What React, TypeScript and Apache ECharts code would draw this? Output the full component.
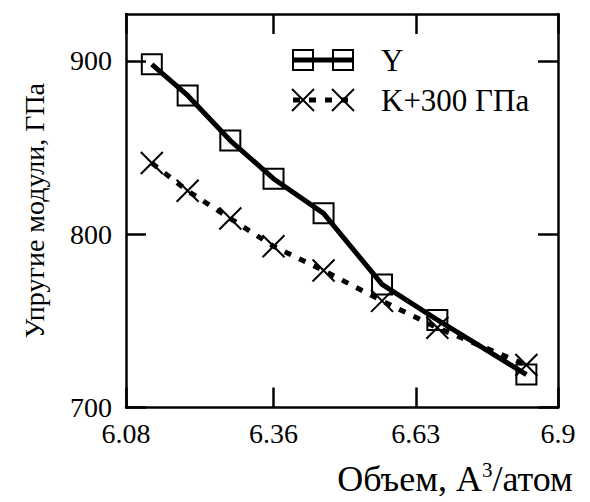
import React, { useEffect, useRef } from "react";
import * as echarts from "echarts";

const volumes = [6.129, 6.197, 6.278, 6.36, 6.455, 6.566, 6.671, 6.84];
const youngModulus = [898, 880, 854, 832, 812, 771, 750.5, 719];
const bulkPlus300 = [841, 825, 809, 793, 779, 761.5, 746, 724.5];
const xTicks = [6.08, 6.36, 6.63, 6.9];
const yTicks = [700, 800, 900];
const seriesNames = ["Y", "K+300 ГПа"];
const xTitle = "Объем, A{sup|3}/атом";
const yTitle = "Упругие модули, ГПа";

const FONT = '"Liberation Serif", "Times New Roman", serif';
const CROSS = "path://M0,0L20,20M20,0L0,20";

export default function App() {
  const ref = useRef<HTMLDivElement>(null);
  useEffect(() => {
    if (!ref.current) return;
    const chart = echarts.init(ref.current, null, { renderer: "svg" });
    const axisLine = { show: true, lineStyle: { color: "#000", width: 2.5 } };
    const tick = { show: true, inside: true, length: 20, lineStyle: { color: "#000", width: 2.5 } };
    const label = { color: "#000", fontFamily: FONT, fontSize: 28 };
    const xBase = { type: "value", min: 6.08, max: 6.9, splitLine: { show: false }, axisLine };
    const yBase = { type: "value", min: 700, max: 927, splitLine: { show: false }, axisLine };
    const lineSeries = (name: string, ys: number[], symbol: string, size: number, dashed: boolean) => ({
      name,
      type: "line",
      data: volumes.map((v, i) => [v, ys[i]]),
      symbol,
      symbolSize: size,
      showAllSymbol: true,
      lineStyle: { color: "#000", width: 5, type: dashed ? [7, 9] : "solid" },
      itemStyle: { color: "rgba(0,0,0,0)", borderColor: "#000", borderWidth: 2 },
      z: 3,
    });
    const legendRow = (y: number, name: string, symbolEl: (cx: number) => any, dashed: boolean) => [
      {
        type: "line",
        shape: { x1: 293, y1: y, x2: 353, y2: y },
        style: { stroke: "#000", lineWidth: 5, lineDash: dashed ? [7, 9] : null },
      },
      symbolEl(303),
      symbolEl(343),
      {
        type: "text",
        x: 381,
        y,
        style: { text: name, fill: "#000", font: `31px ${FONT}`, verticalAlign: "middle" },
      },
    ];
    const sq = (y: number) => (cx: number) => ({
      type: "rect",
      shape: { x: cx - 10, y: y - 10, width: 20, height: 20 },
      style: { fill: "none", stroke: "#000", lineWidth: 2 },
    });
    const cr = (y: number) => (cx: number) => ({
      type: "group",
      children: [
        { type: "line", shape: { x1: cx - 11, y1: y - 11, x2: cx + 11, y2: y + 11 }, style: { stroke: "#000", lineWidth: 2 } },
        { type: "line", shape: { x1: cx + 11, y1: y - 11, x2: cx - 11, y2: y + 11 }, style: { stroke: "#000", lineWidth: 2 } },
      ],
    });
    chart.setOption({
      animation: false,
      backgroundColor: "#fff",
      grid: { left: 126, top: 14, right: 32, bottom: 92, containLabel: false },
      xAxis: [
        {
          ...xBase,
          position: "bottom",
          axisTick: { ...tick, customValues: xTicks },
          axisLabel: { ...label, margin: 12, customValues: xTicks, formatter: (v: number) => String(v) },
          name: xTitle,
          nameLocation: "middle",
          nameGap: 52,
          nameTextStyle: {
            color: "#000",
            fontFamily: FONT,
            fontSize: 36,
            padding: [0, 0, 0, 226],
            rich: { sup: { fontFamily: FONT, fontSize: 21, color: "#000", verticalAlign: "top", padding: [0, 0, 18, 0] } },
          },
        },
        {
          ...xBase,
          position: "top",
          axisTick: { ...tick, customValues: xTicks },
          axisLabel: { show: false },
        },
      ],
      yAxis: [
        {
          ...yBase,
          position: "left",
          axisTick: { ...tick, customValues: yTicks },
          axisLabel: { ...label, margin: 14, customValues: yTicks },
          name: yTitle,
          nameLocation: "middle",
          nameGap: 78,
          nameTextStyle: { color: "#000", fontFamily: FONT, fontSize: 28 },
        },
        {
          ...yBase,
          position: "right",
          axisTick: { ...tick, customValues: yTicks },
          axisLabel: { show: false },
        },
      ],
      series: [
        lineSeries(seriesNames[0], youngModulus, "rect", 20, false),
        lineSeries(seriesNames[1], bulkPlus300, CROSS, 22, true),
      ],
      graphic: [
        ...legendRow(60, seriesNames[0], sq(60), false),
        ...legendRow(100, seriesNames[1], cr(100), true),
      ],
    });
    return () => chart.dispose();
  }, []);
  return <div ref={ref} style={{ width: 590, height: 502, position: "absolute", left: 0, top: 0 }} />;
}
